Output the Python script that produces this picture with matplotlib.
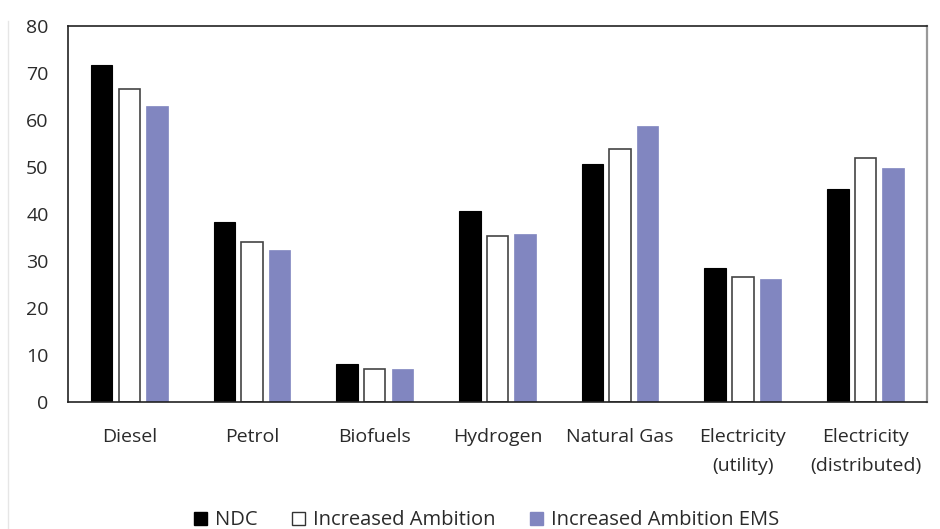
import matplotlib
matplotlib.use("Agg")
import matplotlib.pyplot as plt
from matplotlib.patches import Patch
import numpy as np

categories = ["Diesel", "Petrol", "Biofuels", "Hydrogen", "Natural Gas",
              "Electricity\n(utility)", "Electricity\n(distributed)"]
series_names = ["NDC", "Increased Ambition", "Increased Ambition EMS"]
ndc = [71.8, 38.4, 8.1, 40.7, 50.7, 28.6, 45.4]
increased = [66.7, 34.1, 7.0, 35.4, 53.9, 26.7, 52.0]
increased_ems = [63.1, 32.4, 7.0, 35.8, 58.8, 26.2, 49.9]
yticks = [0, 10, 20, 30, 40, 50, 60, 70, 80]

plt.rcParams['font.family'] = ['Open Sans', 'DejaVu Sans']

fig = plt.figure(figsize=(9.4, 5.29), dpi=100)
ax = fig.add_axes([0.0723, 0.240, 0.9137, 0.710])

x = np.arange(len(categories))
w = 0.175
off = 0.225
ax.bar(x - off, ndc, w, color="black", edgecolor="black", linewidth=0.8)
ax.bar(x, increased, w, color="white", edgecolor="#444444", linewidth=1.2)
ax.bar(x + off, increased_ems, w, color="#8186c0", edgecolor="#8186c0", linewidth=0.5)

ax.set_xlim(-0.5, len(categories) - 0.5)
ax.set_ylim(0, 80)
ax.set_yticks(yticks)
ax.set_xticks(x)
ax.set_xticklabels(categories, fontsize=14, color="#2a2a2a", linespacing=1.75)
ax.tick_params(axis='y', length=0, pad=14, labelsize=14, labelcolor="#2a2a2a")
ax.tick_params(axis='x', length=0, pad=19)

for s in ["left", "bottom", "top"]:
    ax.spines[s].set_color("#222222")
    ax.spines[s].set_linewidth(1.2)
ax.spines["right"].set_color("#999999")
ax.spines["right"].set_linewidth(1.6)

handles = [Patch(facecolor="black", edgecolor="black"),
           Patch(facecolor="white", edgecolor="#333333", linewidth=1.0),
           Patch(facecolor="#8186c0", edgecolor="#8186c0")]
fig.legend(handles, series_names, loc="lower center", bbox_to_anchor=(0.518, -0.037),
           ncol=3, frameon=False, fontsize=14.5, handlelength=0.65, handleheight=0.65,
           handletextpad=0.4, columnspacing=1.7, labelcolor="#2a2a2a")

fig.add_artist(plt.Line2D([0.009, 0.009], [0.0, 0.96], color="#e6e6e6", linewidth=1.0))

fig.savefig("out.png", dpi=100)
